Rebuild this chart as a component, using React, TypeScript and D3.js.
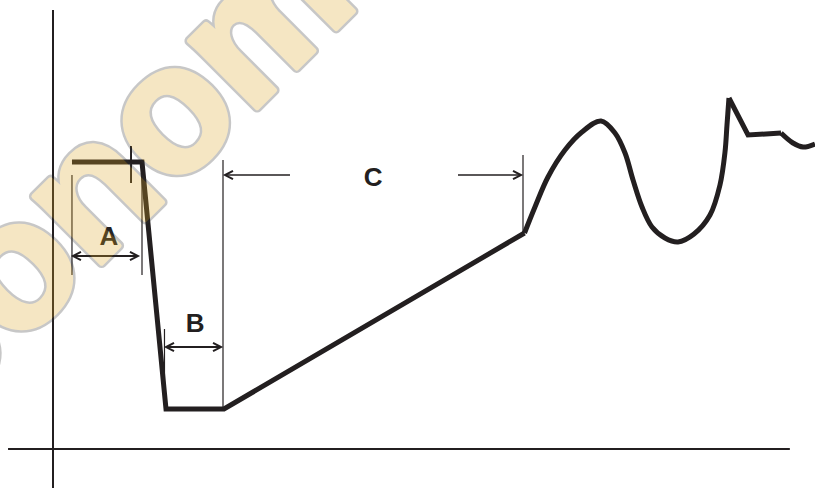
import React from 'react'
import * as d3 from 'd3'

// time units 0..100 along x, level units 0..100 along y
const W = 815, H = 488
const INK = '#231f20'

// main trace, split into straight and smooth runs
const dropPts: [number, number][] = [[2.49,65.38],[11.68,65.38],[14.83,9.11],[22.44,9.11],[61.88,49.2]]
const wavePts: [number, number][] = [
  [61.88,49.2],[63.25,55.13],[64.96,61.96],[67.19,68.11],[69.42,72.21],[71.92,74.72],
  [73.75,71.98],[75.07,67.43],[76.12,61.28],[77.3,55.13],[78.61,50.57],[80.31,48.06],
  [82.02,47.15],[84.12,48.97],[86.22,53.3],[87.53,60.14],[88.19,67.65],[88.45,73.8],[88.71,79.95]
]
const spikePts: [number, number][] = [[88.71,79.95],[91.21,71.53],[95.54,71.98]]
const tailPts: [number, number][] = [[95.54,71.98],[97.11,69.7],[98.43,68.79],[100,69.48]]

// thin marker lines: x, y1, y2, width
const guides: [number, number, number, number][] = [
  [2.49, 62.41, 39.64, 1.2],
  [10.24, 69.02, 60.59, 2],
  [11.68, 64.69, 39.64, 1.2],
  [14.63, 27.33, 10.02, 1.2],
  [22.31, 65.83, 9.11, 1.2],
  [61.68, 66.97, 49.2, 1.2],
]

// arrows: y, x from, x to, heads ('both' | 'end')
const arrows: { y: number; x0: number; x1: number; heads: string; w: number }[] = [
  { y: 43.96, x0: 2.62, x1: 11.15, heads: 'both', w: 1.8 },
  { y: 23.23, x0: 14.83, x1: 22.05, heads: 'both', w: 1.8 },
  { y: 62.41, x0: 31.1, x1: 22.57, heads: 'end', w: 1.3 },
  { y: 62.41, x0: 53.15, x1: 61.42, heads: 'end', w: 1.3 },
]

const labels: { t: string; x: number; y: number }[] = [
  { t: 'A', x: 7.35, y: 46.47 },
  { t: 'B', x: 18.64, y: 26.65 },
  { t: 'C', x: 42.0, y: 59.91 },
]

const x = d3.scaleLinear().domain([0, 100]).range([53, 815])
const y = d3.scaleLinear().domain([0, 100]).range([449, 10])

const straight = d3.line<[number, number]>().x(d => x(d[0])).y(d => y(d[1]))
const smooth = d3.line<[number, number]>().x(d => x(d[0])).y(d => y(d[1])).curve(d3.curveCatmullRom.alpha(0.5))

function head(tx: number, ty: number, dir: number) {
  const l = 8, h = 4.2
  return `M${tx - dir * l},${ty - h}L${tx},${ty}L${tx - dir * l},${ty + h}`
}

export default function App() {
  return (
    <svg width={W} height={H} style={{ position: 'absolute', left: 0, top: 0, background: '#fff' }}>
      {/* axes */}
      <line x1={x(0)} x2={x(0)} y1={y(100)} y2={y(-8.9)} stroke={INK} strokeWidth={2} />
      <line x1={x(-5.9)} x2={x(96.7)} y1={y(0)} y2={y(0)} stroke={INK} strokeWidth={2} />

      {guides.map((g, i) => (
        <line key={i} x1={x(g[0])} x2={x(g[0])} y1={y(g[1])} y2={y(g[2])} stroke={INK} strokeWidth={g[3]} />
      ))}

      {arrows.map((a, i) => {
        const yy = y(a.y), p0 = x(a.x0), p1 = x(a.x1)
        const dir = Math.sign(p1 - p0)
        return (
          <g key={i} stroke={INK} fill="none" strokeWidth={a.w}>
            <line x1={p0} x2={p1} y1={yy} y2={yy} />
            <path d={head(p1, yy, dir)} strokeWidth={2} strokeLinejoin="miter" />
            {a.heads === 'both' && <path d={head(p0, yy, -dir)} strokeWidth={2} strokeLinejoin="miter" />}
          </g>
        )
      })}

      <g fill="none" stroke={INK} strokeWidth={5} strokeLinejoin="miter" strokeLinecap="butt">
        <path d={straight(dropPts) || ''} />
        <path d={smooth(wavePts) || ''} strokeLinejoin="round" />
        <path d={straight(spikePts) || ''} />
        <path d={smooth(tailPts) || ''} />
      </g>

      {labels.map(l => (
        <text key={l.t} x={x(l.x)} y={y(l.y)} textAnchor="middle" fontFamily="'Liberation Sans', Arial, sans-serif"
          fontWeight="bold" fontSize={26} fill={INK}>{l.t}</text>
      ))}

      {/* watermark */}
      <g opacity={0.27} transform="translate(-126.5,491.4) rotate(-45)"
        fontFamily="'Liberation Sans', Arial, sans-serif" fontWeight="bold" fontSize={180}>
        <text x={0} y={0} fill="#333" stroke="#333" strokeWidth={10} strokeLinejoin="round">economics</text>
        <text x={0} y={0} fill="#dea725" stroke="#dea725" strokeWidth={5} strokeLinejoin="round">economics</text>
      </g>
    </svg>
  )
}
